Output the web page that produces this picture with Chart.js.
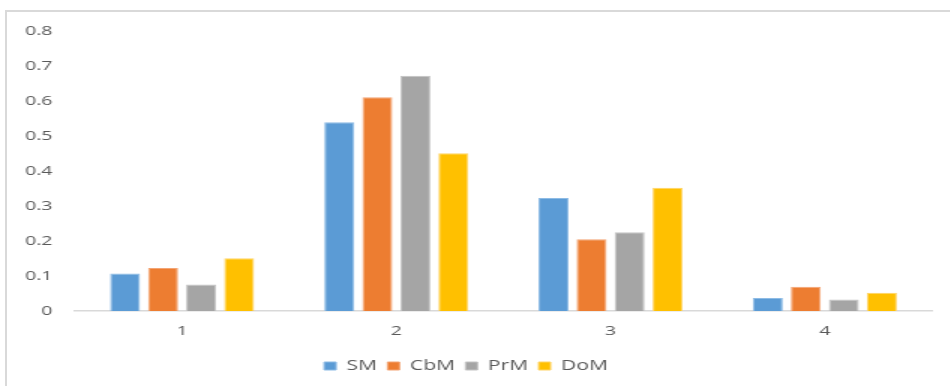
<!DOCTYPE html>
<html>
<head>
<meta charset="utf-8">
<script src="https://cdn.jsdelivr.net/npm/chart.js@4/dist/chart.umd.min.js"></script>
<style>
  html, body { margin: 0; padding: 0; background: #fff; overflow: hidden; }
  body { width: 950px; height: 386px; position: relative; }
  .frame {
    position: absolute; left: 5px; top: 10px; width: 2000px; height: 2000px;
    border-left: 2px solid #d9d9d9; border-top: 2px solid #d9d9d9;
  }
  /* chart is laid out narrow and stretched horizontally to the full width */
  .wrap {
    position: absolute; left: 0; top: 0;
    width: 633.33px; height: 386px;
    transform: scaleX(1.5); transform-origin: 0 0;
  }
</style>
</head>
<body>
<div class="frame"></div>
<div class="wrap"><canvas id="c"></canvas></div>
<script>
const categories = ['1', '2', '3', '4'];
const seriesNames = ['SM', 'CbM', 'PrM', 'DoM'];
const SM  = [0.107, 0.539, 0.323, 0.037];
const CbM = [0.123, 0.611, 0.205, 0.069];
const PrM = [0.076, 0.672, 0.225, 0.033];
const DoM = [0.151, 0.451, 0.352, 0.052];
const yTickLabels = ['0', '0.1', '0.2', '0.3', '0.4', '0.5', '0.6', '0.7', '0.8'];

const fills   = ['#5B9BD5', '#ED7D31', '#A5A5A5', '#FFC000'];
const borders = ['#8DBBE5', '#F3A474', '#C4C4C4', '#FFD466'];
const values  = [SM, CbM, PrM, DoM];

const FONT = '"Open Sans", sans-serif';

new Chart(document.getElementById('c'), {
  type: 'bar',
  data: {
    labels: categories,
    datasets: seriesNames.map((name, i) => ({
      label: name,
      data: values[i],
      backgroundColor: fills[i],
      borderColor: borders[i],
      borderWidth: 1,
      categoryPercentage: 0.71,
      barPercentage: 0.79
    }))
  },
  options: {
    responsive: true,
    maintainAspectRatio: false,
    animation: false,
    layout: { padding: { top: 31, right: 12, bottom: 3, left: 0 } },
    plugins: {
      tooltip: { enabled: false },
      legend: {
        position: 'bottom',
        labels: {
          boxWidth: 8,
          boxHeight: 8,
          padding: 7,
          color: '#595959',
          font: { family: FONT, size: 14 }
        }
      }
    },
    scales: {
      x: {
        grid: { display: false, drawTicks: false },
        border: { display: true, color: '#d9d9d9', width: 1.5 },
        ticks: { color: '#595959', padding: 12, font: { family: FONT, size: 13 } },
        afterFit: s => { s.height = 41; }
      },
      y: {
        min: 0,
        max: 0.8,
        grid: { display: false, drawTicks: false },
        border: { display: false },
        ticks: {
          stepSize: 0.1,
          color: '#595959',
          padding: 15,
          font: { family: FONT, size: 13 },
          callback: (v, i) => yTickLabels[i]
        },
        afterFit: s => { s.width = 50; }
      }
    }
  }
});
</script>
</body>
</html>
